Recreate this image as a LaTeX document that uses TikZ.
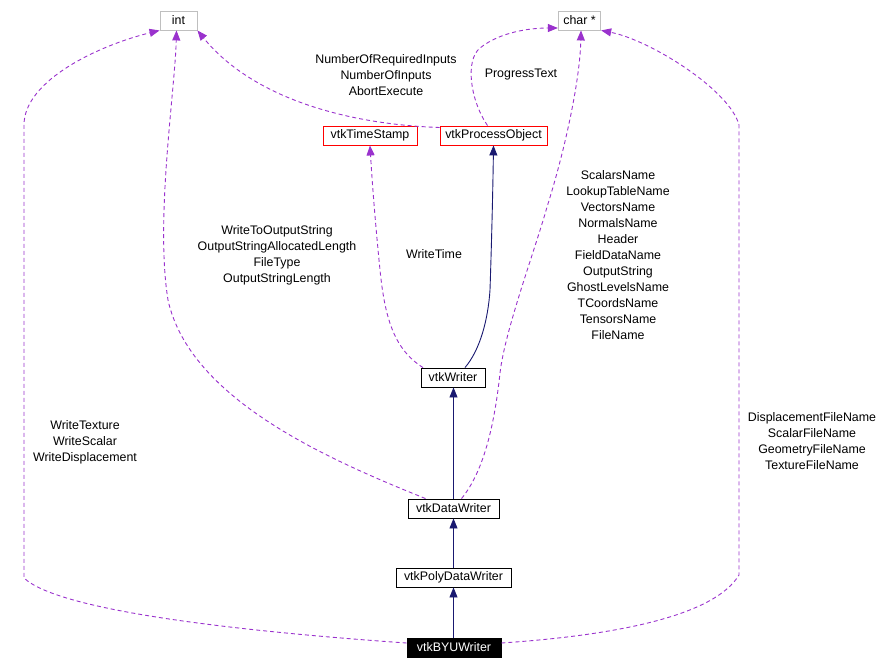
\documentclass[tikz,border=0pt]{standalone}
\usepackage{fontspec}
\setmainfont{Liberation Sans}
\usetikzlibrary{arrows.meta}
\definecolor{usecol}{HTML}{9A32CD}
\definecolor{inhcol}{HTML}{191970}
\definecolor{extcol}{HTML}{BFBFBF}
\tikzset{
  cls/.style={draw=black, line width=0.9pt, inner xsep=5pt, inner ysep=0pt,
    minimum height=19pt, font=\fontsize{12.4}{16}\selectfont},
  ext/.style={cls, draw=extcol},
  part/.style={cls, draw=red},
  self/.style={cls, fill=black, text=white},
  lbl/.style={align=center, inner sep=0pt, font=\fontsize{12.4}{16}\selectfont},
  uses/.style={draw=usecol, line width=0.9pt, dash pattern=on 4pt off 3pt,
    -{Triangle[length=10pt,width=8pt]}},
  isa/.style={draw=inhcol, line width=0.9pt, -{Triangle[length=10pt,width=8pt]}},
}
\begin{document}
\begin{tikzpicture}[x=1pt,y=-1pt]
  \useasboundingbox (0,0) rectangle (880,669);
  \draw
    (178.5,20.5) node[ext,minimum width=37pt] (int){int}
    (579.5,20.5) node[ext,minimum width=37pt] (charp){char *}
    (370,135.5) node[part,minimum width=94pt] (stamp){vtkTimeStamp}
    (493.5,135.5) node[part,minimum width=107pt] (proc){vtkProcessObject}
    (453,377.5) node[cls,minimum width=64pt] (writer){vtkWriter}
    (453.5,508.5) node[cls,minimum width=91pt] (data){vtkDataWriter}
    (453.5,577.5) node[cls,minimum width=115pt] (poly){vtkPolyDataWriter}
    (454,647.5) node[self,minimum width=94pt] (byu){vtkBYUWriter};
  \begin{scope}[uses]
    \draw ([yshift=4.5pt]byu.west) .. controls (250,632) and (60,612) .. (24,578)
      -- (24,125) .. controls (24,80) and (100,45) .. (int.south west);
    \draw ([xshift=-28pt]data.north) .. controls (330,460) and (190,400) .. (168,300)
      .. controls (155,220) and (175,90) .. ([xshift=-2pt]int.south);
    \draw ([yshift=8pt]proc.west) .. controls (340,124) and (250,95) .. (int.south east);
    \draw ([xshift=-6pt]proc.north) .. controls (470,100) and (465,60) .. (480,48)
      .. controls (500,32) and (530,28) .. ([yshift=-7.5pt]charp.west);
    \draw ([xshift=8pt]data.north) .. controls (485,470) and (495,420) .. (500,373)
      .. controls (505,330) and (535,250) .. (547,207)
      .. controls (565,150) and (580,80) .. ([xshift=1.5pt]charp.south);
    \draw ([yshift=4.5pt]byu.east) .. controls (620,635) and (715,615) .. (739,575)
      -- (739,125) .. controls (730,90) and (650,40) .. (charp.south east);
    \draw ([xshift=-30pt]writer.north) .. controls (395,350) and (385,320) .. (380,270)
      .. controls (375,220) and (372,180) .. (stamp.south);
  \end{scope}
  \begin{scope}[isa]
    \draw ([xshift=12pt]writer.north) .. controls (480,350) and (488,320) .. (490,290)
      .. controls (492,230) and (493,180) .. (proc.south);
    \draw (data.north) -- (data.north |- writer.south);
    \draw (poly.north) -- (data.south);
    \draw (byu.north -| poly.north) -- (poly.south);
  \end{scope}
  \node[lbl] (byuint) at (85,442) {WriteTexture\\WriteScalar\\WriteDisplacement};
  \node[lbl] (dataint) at (277,255) {WriteToOutputString\\OutputStringAllocatedLength\\FileType\\OutputStringLength};
  \node[lbl] (procint) at (386,75) {NumberOfRequiredInputs\\NumberOfInputs\\AbortExecute};
  \node[lbl] (procchar) at (521,75) {ProgressText};
  \node[lbl] (writertime) at (434,254) {WriteTime};
  \node[lbl] (datachar) at (618,255) {ScalarsName\\LookupTableName\\VectorsName\\NormalsName\\Header\\FieldDataName\\OutputString\\GhostLevelsName\\TCoordsName\\TensorsName\\FileName};
  \node[lbl] (byuchar) at (812,441) {DisplacementFileName\\ScalarFileName\\GeometryFileName\\TextureFileName};
\end{tikzpicture}
\end{document}
